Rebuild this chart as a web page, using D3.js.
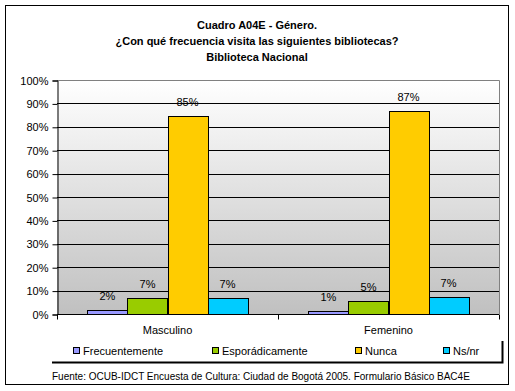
<!DOCTYPE html>
<html>
<head>
<meta charset="utf-8">
<script src="https://cdn.jsdelivr.net/npm/d3@7"></script>
<style>
  html, body { margin: 0; padding: 0; background: #fff; }
  svg { display: block; font-family: "Liberation Sans", Arial, sans-serif; }
</style>
</head>
<body>
<svg id="chart" width="515" height="391"></svg>
<script>
const titleLines = ["Cuadro A04E - Género.", "¿Con qué frecuencia visita las siguientes bibliotecas?", "Biblioteca Nacional"];
const categories = ["Masculino", "Femenino"];
const seriesNames = ["Frecuentemente", "Esporádicamente", "Nunca", "Ns/nr"];
const seriesColors = ["#9999ff", "#99cc00", "#ffcc00", "#00ccff"];
const frecuentemente = [0.017, 0.011];
const esporadicamente = [0.067, 0.055];
const nunca = [0.845, 0.867];
const nsnr = [0.067, 0.071];
const dataLabels = [["2%", "1%"], ["7%", "5%"], ["85%", "87%"], ["7%", "7%"]];
const yTicks = [0, 0.1, 0.2, 0.3, 0.4, 0.5, 0.6, 0.7, 0.8, 0.9, 1.0];
const sourceText = "Fuente: OCUB-IDCT Encuesta de Cultura: Ciudad de Bogotá 2005. Formulario Básico BAC4E";

const seriesValues = [frecuentemente, esporadicamente, nunca, nsnr];

const svg = d3.select("#chart");

// outer border
svg.append("rect").attr("x", 5.5).attr("y", 5.5).attr("width", 503).attr("height", 379)
  .attr("fill", "#fff").attr("stroke", "#000").attr("stroke-width", 1);

// title
svg.append("g").selectAll("text").data(titleLines).join("text")
  .attr("x", 257).attr("y", (d, i) => 29 + i * 16)
  .attr("text-anchor", "middle").attr("font-weight", "bold").attr("font-size", 11)
  .text(d => d);

const plot = { left: 57, right: 499, top: 80, bottom: 314 };

const x0 = d3.scaleBand().domain(categories).range([plot.left, plot.right]).paddingInner(0).paddingOuter(0);
const x1 = d3.scaleBand().domain(seriesNames).range([0, x0.bandwidth()]).paddingInner(0).paddingOuter(0.76);
const y = d3.scaleLinear().domain([0, 1]).range([plot.bottom, plot.top]);

// gradient background
const defs = svg.append("defs");
const grad = defs.append("linearGradient").attr("id", "bg").attr("x1", 0).attr("y1", 0).attr("x2", 0).attr("y2", 1);
grad.append("stop").attr("offset", "0%").attr("stop-color", "#ffffff");
grad.append("stop").attr("offset", "100%").attr("stop-color", "#c0c0c0");

svg.append("rect").attr("x", plot.left).attr("y", plot.top)
  .attr("width", plot.right - plot.left).attr("height", plot.bottom - plot.top)
  .attr("fill", "url(#bg)");

// gridlines
svg.append("g").selectAll("line").data(yTicks.slice(1, -1)).join("line")
  .attr("x1", plot.left).attr("x2", plot.right)
  .attr("y1", d => Math.round(y(d)) + 0.5).attr("y2", d => Math.round(y(d)) + 0.5)
  .attr("stroke", "#000").attr("stroke-width", 1);

// plot border top/right gray
svg.append("path")
  .attr("d", `M${plot.left},${plot.top + 0.5}H${plot.right + 0.5}V${plot.bottom}`)
  .attr("fill", "none").attr("stroke", "#808080").attr("stroke-width", 1);

// bars
const groups = svg.append("g").selectAll("g").data(categories).join("g")
  .attr("transform", d => `translate(${x0(d)},0)`);

groups.each(function(cat, ci) {
  const g = d3.select(this);
  seriesNames.forEach((s, si) => {
    const v = seriesValues[si][ci];
    g.append("rect")
      .attr("x", Math.round(x1(s)) + 0.5)
      .attr("y", Math.round(y(v)) + 0.5)
      .attr("width", Math.round(x1.bandwidth()))
      .attr("height", Math.max(0, Math.round(y(0)) - Math.round(y(v))))
      .attr("fill", seriesColors[si]).attr("stroke", "#000").attr("stroke-width", 1);
    g.append("text")
      .attr("x", x1(s) + x1.bandwidth() / 2)
      .attr("y", y(v) - 10)
      .attr("text-anchor", "middle").attr("font-size", 11)
      .text(dataLabels[si][ci]);
  });
});

// y axis
const yAxis = d3.axisLeft(y).tickValues(yTicks).tickFormat(d3.format(".0%")).tickSize(5).tickPadding(4);
const ya = svg.append("g").attr("transform", `translate(${plot.left + 0.5},0.5)`).call(yAxis);
ya.selectAll("text").attr("font-size", 11).attr("fill", "#000").attr("font-family", "Liberation Sans, Arial, sans-serif");
ya.selectAll("line").attr("stroke", "#000");
ya.select(".domain").attr("stroke", "#000");

// x axis
const xAxis = d3.axisBottom(x0).tickSize(0).tickPadding(12);
const xa = svg.append("g").attr("transform", `translate(0,${plot.bottom + 0.5})`).call(xAxis);
xa.select(".domain").attr("d", `M${plot.left},0H${plot.right}`).attr("stroke", "#000");
xa.selectAll("text").attr("font-size", 11).attr("fill", "#000").attr("font-family", "Liberation Sans, Arial, sans-serif");
// category separator ticks
const sepX = [plot.left, x0(categories[1]), plot.right];
xa.append("g").selectAll("line").data(sepX).join("line")
  .attr("x1", d => Math.round(d) + 0.5).attr("x2", d => Math.round(d) + 0.5)
  .attr("y1", 0).attr("y2", 5).attr("stroke", "#000");

// legend
const legend = svg.append("g");
legend.append("path")
  .attr("d", "M52,362.5H502.5V341")
  .attr("fill", "none").attr("stroke", "#000").attr("stroke-width", 2);
const legX = [73, 212, 355, 443];
const li = legend.selectAll("g").data(seriesNames).join("g")
  .attr("transform", (d, i) => `translate(${legX[i]},0)`);
li.append("rect").attr("x", 0.5).attr("y", 347.5).attr("width", 6).attr("height", 6)
  .attr("fill", (d, i) => seriesColors[i]).attr("stroke", "#000");
li.append("text").attr("x", 10).attr("y", 355).attr("font-size", 11).text(d => d);

// source
svg.append("text").attr("x", 52).attr("y", 380).attr("font-size", 10).text(sourceText);
</script>
</body>
</html>
